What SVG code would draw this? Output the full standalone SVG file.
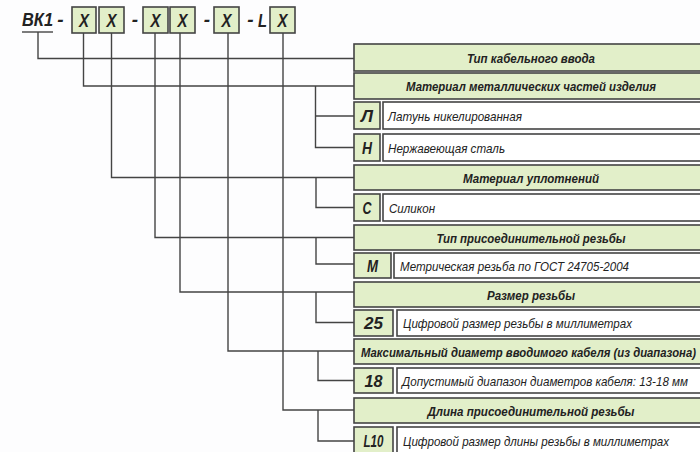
<svg xmlns="http://www.w3.org/2000/svg" width="700" height="452" viewBox="0 0 700 452">
<style>
.bg{fill:#fdfdfe}
.g{fill:#e2efc9;stroke:#444;stroke-width:1.6}
.w{fill:#ffffff;stroke:#444;stroke-width:1.6}
.ln{fill:none;stroke:#444;stroke-width:1.4}
.hd{font-family:"Liberation Sans",Arial,sans-serif;font-size:13.5px;font-weight:bold;font-style:italic;fill:#222;text-anchor:middle}
.ds{font-family:"Liberation Sans",Arial,sans-serif;font-size:13px;font-style:italic;fill:#222}
.cd{font-family:"Liberation Sans",Arial,sans-serif;font-size:17px;font-weight:bold;font-style:italic;fill:#222;text-anchor:middle}
.tp{font-family:"Liberation Sans",Arial,sans-serif;font-size:19px;font-weight:bold;font-style:italic;fill:#222;text-anchor:middle}
</style>
<rect class="bg" x="0" y="0" width="700" height="452"/>

<g id="code">
  <text class="tp" x="37.5" y="26" textLength="31" lengthAdjust="spacingAndGlyphs">ВК1</text>
  <line class="ln" x1="22" y1="32" x2="53" y2="32"/>
  <text class="tp" x="60.5" y="26">-</text>
  <rect class="g" x="72" y="7" width="24" height="26"/>
  <text class="tp" x="84" y="27" textLength="10" lengthAdjust="spacingAndGlyphs">X</text>
  <rect class="g" x="99" y="7" width="25" height="26"/>
  <text class="tp" x="111.5" y="27" textLength="10" lengthAdjust="spacingAndGlyphs">X</text>
  <text class="tp" x="135" y="26">-</text>
  <rect class="g" x="143" y="7" width="25" height="26"/>
  <text class="tp" x="155.5" y="27" textLength="10" lengthAdjust="spacingAndGlyphs">X</text>
  <rect class="g" x="170" y="7" width="25" height="26"/>
  <text class="tp" x="182.5" y="27" textLength="10" lengthAdjust="spacingAndGlyphs">X</text>
  <text class="tp" x="207" y="26">-</text>
  <rect class="g" x="214" y="7" width="25" height="26"/>
  <text class="tp" x="226.5" y="27" textLength="10" lengthAdjust="spacingAndGlyphs">X</text>
  <text class="tp" x="250.5" y="26">-</text>
  <text class="tp" x="262.5" y="27" textLength="9" lengthAdjust="spacingAndGlyphs">L</text>
  <rect class="g" x="270" y="7" width="25" height="26"/>
  <text class="tp" x="282.5" y="27" textLength="10" lengthAdjust="spacingAndGlyphs">X</text>
</g>

<g id="connectors">
  <polyline class="ln" points="38,32 38,58.5 354,58.5"/>
  <polyline class="ln" points="83.5,33 83.5,86 354,86"/>
  <polyline class="ln" points="315.5,86 315.5,147.5 354,147.5"/>
  <line class="ln" x1="315.5" y1="116" x2="354" y2="116"/>
  <polyline class="ln" points="111.5,33 111.5,177.5 354,177.5"/>
  <polyline class="ln" points="316,177.5 316,207.5 354,207.5"/>
  <polyline class="ln" points="155,33 155,237.5 354,237.5"/>
  <polyline class="ln" points="316,237.5 316,264 354,264"/>
  <polyline class="ln" points="180,33 180,292 354,292"/>
  <polyline class="ln" points="316,292 316,322.5 354,322.5"/>
  <polyline class="ln" points="228,33 228,351 354,351"/>
  <polyline class="ln" points="318,351 318,380.5 354,380.5"/>
  <polyline class="ln" points="283,33 283,410 354,410"/>
  <polyline class="ln" points="318,410 318,441 354,441"/>
</g>

<g id="h1">
  <rect class="g" x="354" y="44" width="360" height="27"/>
  <text class="hd" x="531" y="62.5" textLength="128" lengthAdjust="spacingAndGlyphs">Тип кабельного ввода</text>
</g>
<g id="h2">
  <rect class="g" x="354" y="73" width="360" height="26"/>
  <text class="hd" x="531" y="91" textLength="250" lengthAdjust="spacingAndGlyphs">Материал металлических частей изделия</text>
</g>
<g id="r-L">
  <rect class="g" x="354" y="102" width="26" height="27"/>
  <text class="cd" x="367" y="121.5" textLength="12" lengthAdjust="spacingAndGlyphs">Л</text>
  <rect class="w" x="383" y="102" width="330" height="27"/>
  <text class="ds" x="388" y="120.5" textLength="134" lengthAdjust="spacingAndGlyphs">Латунь никелированная</text>
</g>
<g id="r-N">
  <rect class="g" x="354" y="134" width="26" height="27"/>
  <text class="cd" x="367" y="153.5" textLength="10" lengthAdjust="spacingAndGlyphs">Н</text>
  <rect class="w" x="383" y="134" width="330" height="27"/>
  <text class="ds" x="388" y="152.5" textLength="117" lengthAdjust="spacingAndGlyphs">Нержавеющая сталь</text>
</g>
<g id="h3">
  <rect class="g" x="354" y="165" width="360" height="25"/>
  <text class="hd" x="531" y="182.5" textLength="136" lengthAdjust="spacingAndGlyphs">Материал уплотнений</text>
</g>
<g id="r-S">
  <rect class="g" x="354" y="194" width="26" height="27"/>
  <text class="cd" x="367" y="213.5" textLength="9" lengthAdjust="spacingAndGlyphs">С</text>
  <rect class="w" x="383" y="194" width="330" height="27"/>
  <text class="ds" x="389" y="212.5" textLength="46" lengthAdjust="spacingAndGlyphs">Силикон</text>
</g>
<g id="h4">
  <rect class="g" x="354" y="225" width="360" height="25"/>
  <text class="hd" x="531" y="242.5" textLength="189" lengthAdjust="spacingAndGlyphs">Тип присоединительной резьбы</text>
</g>
<g id="r-M">
  <rect class="g" x="354" y="253" width="37" height="25"/>
  <text class="cd" x="372.5" y="271.5" textLength="11" lengthAdjust="spacingAndGlyphs">М</text>
  <rect class="w" x="394" y="253" width="320" height="25"/>
  <text class="ds" x="400" y="270.5" textLength="229" lengthAdjust="spacingAndGlyphs">Метрическая резьба по ГОСТ 24705-2004</text>
</g>
<g id="h5">
  <rect class="g" x="354" y="282" width="360" height="25"/>
  <text class="hd" x="531" y="299.5" textLength="88" lengthAdjust="spacingAndGlyphs">Размер резьбы</text>
</g>
<g id="r-25">
  <rect class="g" x="354" y="310" width="39" height="26"/>
  <text class="cd" x="373.5" y="329" textLength="19" lengthAdjust="spacingAndGlyphs">25</text>
  <rect class="w" x="397" y="310" width="320" height="26"/>
  <text class="ds" x="403" y="328" textLength="229" lengthAdjust="spacingAndGlyphs">Цифровой размер резьбы в миллиметрах</text>
</g>
<g id="h6">
  <rect class="g" x="354" y="339" width="360" height="25"/>
  <text class="hd" x="528.5" y="356.5" textLength="335" lengthAdjust="spacingAndGlyphs">Максимальный диаметр вводимого кабеля (из диапазона)</text>
</g>
<g id="r-18">
  <rect class="g" x="354" y="368" width="39" height="25"/>
  <text class="cd" x="373.5" y="386.5" textLength="18" lengthAdjust="spacingAndGlyphs">18</text>
  <rect class="w" x="397" y="368" width="320" height="25"/>
  <text class="ds" x="402" y="385.5" textLength="286" lengthAdjust="spacingAndGlyphs">Допустимый диапазон диаметров кабеля: 13-18 мм</text>
</g>
<g id="h7">
  <rect class="g" x="354" y="398" width="360" height="25"/>
  <text class="hd" x="531" y="415.5" textLength="207" lengthAdjust="spacingAndGlyphs">Длина присоединительной резьбы</text>
</g>
<g id="r-L10">
  <rect class="g" x="354" y="427" width="39" height="28"/>
  <text class="cd" x="373.5" y="446.5" textLength="20" lengthAdjust="spacingAndGlyphs">L10</text>
  <rect class="w" x="397" y="427" width="320" height="28"/>
  <text class="ds" x="403" y="445.5" textLength="266" lengthAdjust="spacingAndGlyphs">Цифровой размер длины резьбы в миллиметрах</text>
</g>
</svg>
